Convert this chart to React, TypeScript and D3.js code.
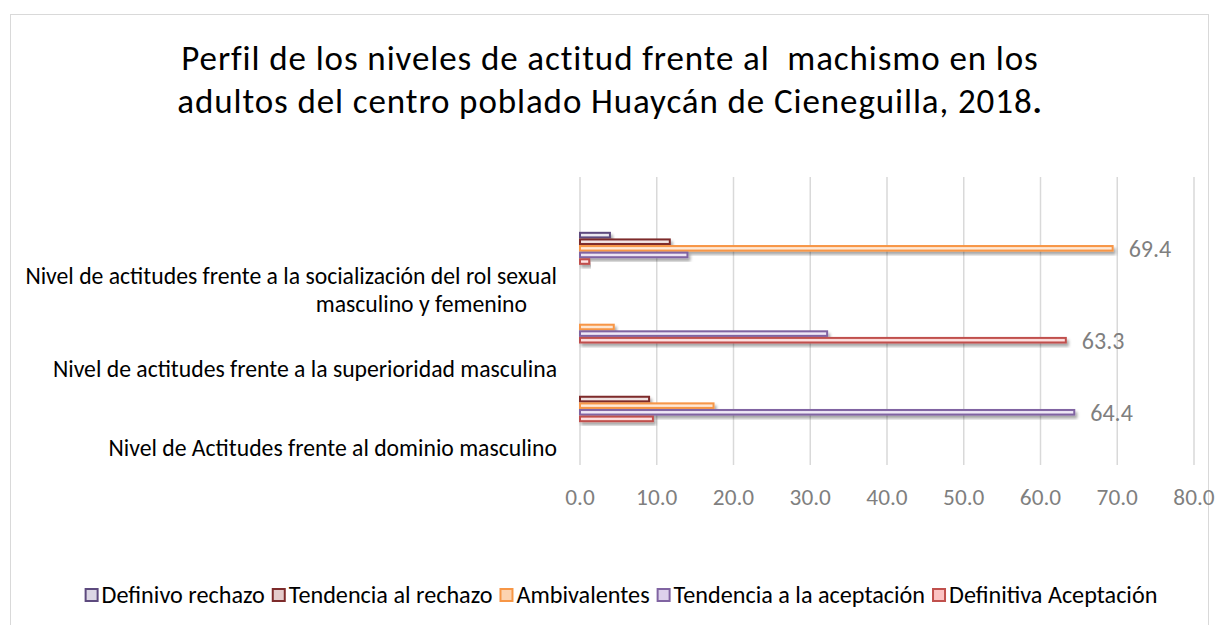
import React, { useEffect, useRef } from "react";
import * as d3 from "d3";

// ---- data ----
const categories = ["socializacion", "superioridad", "dominio"];
const categoryLabels: string[][] = [
  ["Nivel de actitudes frente a la socialización del rol sexual", "masculino y femenino"],
  ["Nivel de actitudes frente a la superioridad masculina"],
  ["Nivel de Actitudes frente al dominio masculino"],
];
const seriesNames = [
  "Definivo rechazo",
  "Tendencia al rechazo",
  "Ambivalentes",
  "Tendencia a la aceptación",
  "Definitiva Aceptación",
];
const definivoRechazo = [3.9, 0, 0];
const tendenciaRechazo = [11.7, 0, 9.0];
const ambivalentes = [69.4, 4.4, 17.4];
const tendenciaAceptacion = [14.0, 32.2, 64.4];
const definitivaAceptacion = [1.2, 63.3, 9.5];
const seriesValues = [definivoRechazo, tendenciaRechazo, ambivalentes, tendenciaAceptacion, definitivaAceptacion];
const xTicks = [0, 10, 20, 30, 40, 50, 60, 70, 80];
const titleLines = [
  "Perfil de los niveles de actitud frente al  machismo en los",
  "adultos del centro poblado Huaycán de Cieneguilla, 2018",
];

const strokeColors = ["#5d4a7e", "#7d2b2b", "#f79646", "#8064a2", "#c0504d"];
const fillColors = ["#dcd7e5", "#e4cccc", "#fcd3b0", "#ddd1ec", "#fbc3c3"];
const FONT = "Carlito, Calibri, Lato, 'Open Sans', sans-serif";

export default function App() {
  const ref = useRef<SVGSVGElement>(null);

  useEffect(() => {
    const svg = d3.select(ref.current);
    svg.selectAll("*").remove();
    const W = 1219;

    const defs = svg.append("defs");
    const filter = defs.append("filter").attr("id", "shadow").attr("x", "-5%").attr("y", "-50%").attr("width", "120%").attr("height", "250%");
    filter.append("feDropShadow").attr("dx", 2).attr("dy", 3).attr("stdDeviation", 1.8).attr("flood-color", "#000").attr("flood-opacity", 0.35);

    seriesNames.forEach((_, i) => {
      const g = defs.append("linearGradient").attr("id", `grad${i}`).attr("x1", 0).attr("y1", 0).attr("x2", 0).attr("y2", 1);
      g.append("stop").attr("offset", "0%").attr("stop-color", fillColors[i]);
      g.append("stop").attr("offset", "50%").attr("stop-color", d3.interpolateRgb(fillColors[i], "#fff")(0.55));
      g.append("stop").attr("offset", "100%").attr("stop-color", fillColors[i]);
    });

    svg.append("rect").attr("x", 0).attr("y", 0).attr("width", W).attr("height", 625).attr("fill", "#fff");
    svg.append("rect").attr("x", 10.5).attr("y", 14.5).attr("width", 1198).attr("height", 640)
      .attr("fill", "#fff").attr("stroke", "#d9d9d9").attr("stroke-width", 1);

    // title
    svg.append("g").selectAll("text").data(titleLines).join("text")
      .attr("x", 610).attr("y", (_, i) => 70 + i * 42.7)
      .attr("text-anchor", "middle").attr("font-family", FONT).attr("font-size", 35)
      .attr("letter-spacing", 0.9).attr("fill", "#000")
      .style("white-space", "pre")
      .each(function (d, i) {
        const t = d3.select(this);
        t.append("tspan").text(d);
        if (i === 1) t.append("tspan").attr("font-weight", "bold").text(".");
      });

    const x = d3.scaleLinear().domain([0, 80]).range([580, 1194]);
    const y0 = d3.scaleBand().domain(categories).range([209, 445]).paddingInner(0.58).paddingOuter(0.29);
    const y1 = d3.scaleBand().domain(seriesNames).range([0, y0.bandwidth()]);

    // grid
    svg.append("g").selectAll("line").data(xTicks).join("line")
      .attr("x1", (d) => x(d)).attr("x2", (d) => x(d)).attr("y1", 177).attr("y2", 465)
      .attr("stroke", "#d9d9d9").attr("stroke-width", 1.5);

    // tick labels
    svg.append("g").selectAll("text").data(xTicks).join("text")
      .attr("x", (d) => x(d)).attr("y", 505).attr("text-anchor", "middle")
      .attr("font-family", FONT).attr("font-size", 23.3).attr("fill", "#7f7f7f")
      .text((d) => d3.format(".1f")(d));

    // bars
    const bars = svg.append("g");
    categories.forEach((c, ci) => {
      seriesNames.forEach((s, si) => {
        const v = seriesValues[si][ci];
        if (v <= 0) return;
        bars.append("rect")
          .attr("x", x(0)).attr("y", (y0(c) as number) + (y1(s) as number) + 1)
          .attr("width", x(v) - x(0)).attr("height", y1.bandwidth() - 2)
          .attr("fill", `url(#grad${si})`).attr("stroke", strokeColors[si]).attr("stroke-width", 2)
          .attr("filter", "url(#shadow)");
      });
    });

    // data labels (largest value per category)
    categories.forEach((c, ci) => {
      let best = 0;
      seriesValues.forEach((vals, si) => { if (vals[ci] > seriesValues[best][ci]) best = si; });
      const v = seriesValues[best][ci];
      svg.append("text")
        .attr("x", x(v) + 16).attr("y", (y0(c) as number) + (y1(seriesNames[best]) as number) + y1.bandwidth() / 2 + 8.5)
        .attr("font-family", FONT).attr("font-size", 24).attr("fill", "#7f7f7f")
        .text(d3.format(".1f")(v));
    });

    // category labels
    categories.forEach((c, ci) => {
      const lines = categoryLabels[ci];
      const cy = (y0(c) as number) + y0.bandwidth() / 2 + 42;
      lines.forEach((ln, li) => {
        svg.append("text")
          .attr("x", li === 0 ? 557 : 527)
          .attr("y", cy - ((lines.length - 1) * 28) / 2 + li * 28 + 8)
          .attr("text-anchor", "end").attr("font-family", FONT).attr("font-size", 23.7).attr("fill", "#000")
          .text(ln);
      });
    });

    // legend
    const lg = svg.append("g");
    const items = seriesNames.map((s, i) => {
      const g = lg.append("g");
      g.append("rect").attr("x", 1).attr("y", -14).attr("width", 12).attr("height", 12)
        .attr("fill", fillColors[i]).attr("stroke", strokeColors[i]).attr("stroke-width", 2);
      const t = g.append("text").attr("x", 17).attr("y", 0).attr("font-family", FONT).attr("font-size", 24.2).attr("fill", "#000").text(s);
      const w = 17 + (t.node() as SVGTextElement).getComputedTextLength();
      return { g, w };
    });
    const gap = 7;
    const total = d3.sum(items, (d) => d.w) + gap * (items.length - 1);
    let cx = 621 - total / 2;
    items.forEach((it) => {
      it.g.attr("transform", `translate(${cx},603)`);
      cx += it.w + gap;
    });
  }, []);

  return <svg ref={ref} width={1219} height={625} style={{ position: "absolute", left: 0, top: 0 }} />;
}
